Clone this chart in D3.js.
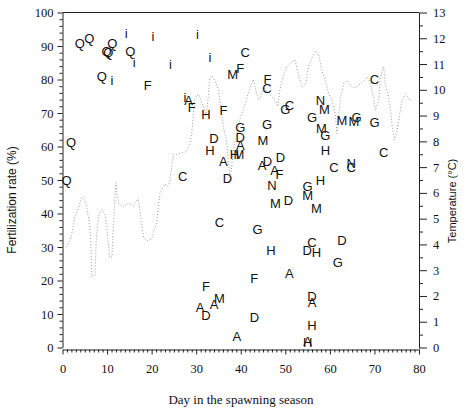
<!DOCTYPE html>
<html>
<head>
<meta charset="utf-8">
<script src="https://cdn.jsdelivr.net/npm/d3@7"></script>
<style>
  html, body { margin: 0; padding: 0; background: #fff; }
  svg { display: block; }
  text { opacity: 0.999; }
</style>
</head>
<body>
<svg id="chart" width="467" height="408"></svg>
<script>
// Fertilization rate per female (letter = female code)
const markerLabels = [
  "Q","Q","Q","Q","Q","Q","Q","Q","Q",
  "i","i","i","i","i","i","i","F","i","A","F","H","F","D","H","A",
  "M","F","C","H","M","G","D","A","D","C","C",
  "F","C","G","C","G","M","A","D","D","A","F","N","M","D",
  "G","M","H","M","N","M","G","M","G","H","C","N","C",
  "M","M","G","G","C","C",
  "G","H","C","D","H","D","G","A","F","D","A",
  "F","A","D","A","M","D","H","A","H","A"
];
const markerDays = [
  0.9, 1.9, 3.9, 6.0, 8.8, 9.9, 10.3, 11.2, 15.2,
  16.1, 11.1, 14.3, 20.3, 24.2, 30.3, 33.1, 19.1, 27.5, 28.3, 29.0, 32.2, 36.1, 34.0, 33.1, 36.1,
  38.2, 39.9, 41.0, 38.6, 39.6, 39.9, 39.9, 39.9, 37.0, 27.0, 35.2,
  46.0, 45.9, 50.0, 50.9, 45.9, 45.0, 44.8, 46.0, 48.9, 47.6, 48.7, 47.0, 47.8, 50.7,
  55.0, 55.0, 57.9, 57.0, 57.9, 58.8, 56.0, 58.1, 59.0, 59.0, 60.9, 64.8, 64.8,
  62.7, 65.4, 66.0, 70.0, 70.0, 72.1,
  43.8, 46.8, 56.0, 54.9, 57.0, 62.7, 61.8, 50.9, 43.0, 56.0, 56.0,
  32.2, 30.9, 32.2, 34.0, 35.2, 43.1, 56.0, 39.1, 55.0, 55.0
];
const markerRates = [
  50.0, 61.2, 90.7, 92.3, 80.9, 88.4, 88.0, 90.8, 88.4,
  85.2, 79.7, 93.8, 92.8, 84.4, 93.6, 86.6, 78.4, 74.7, 73.7, 71.7, 69.5, 70.9, 62.3, 58.8, 55.6,
  81.5, 83.2, 88.1, 57.8, 57.8, 65.7, 62.7, 60.3, 50.4, 51.0, 37.3,
  80.2, 77.5, 71.2, 72.2, 66.5, 61.8, 54.3, 55.5, 56.8, 52.8, 51.8, 48.3, 43.0, 44.0,
  48.0, 45.3, 50.0, 41.4, 73.7, 71.2, 68.7, 65.3, 63.3, 58.8, 53.8, 55.1, 53.8,
  67.9, 67.5, 68.7, 67.2, 80.2, 58.3,
  35.4, 29.1, 31.4, 28.9, 28.4, 31.9, 25.4, 22.1, 20.7, 15.4, 13.4,
  18.4, 12.0, 9.5, 12.8, 14.8, 9.0, 6.5, 3.4, 1.5, 1.8
];

// Daily water temperature (°C)
const tempDays = [
  0.9, 1.6, 2.2, 2.8, 3.3, 4.3, 4.8, 5.4, 6.0, 6.3, 6.6, 7.3, 7.6, 8.2, 8.8, 9.5, 9.9,
  10.6, 11.1, 11.4, 12.0, 12.3, 12.7, 13.6, 14.7, 15.9, 17.0, 17.7, 18.2, 19.0, 20.0,
  20.5, 21.1, 21.5, 21.9, 23.0, 23.7, 24.1, 24.5, 24.9, 25.6, 27.8, 28.6, 29.0, 29.3,
  29.7, 30.1, 30.7, 31.2, 31.7, 32.2, 32.7, 33.0, 33.5, 34.2, 35.0, 35.3, 35.7, 36.1,
  36.8, 37.6, 38.5, 39.4, 39.9, 40.6, 41.4, 42.1, 42.8, 43.6, 44.0, 44.4, 45.1, 45.9,
  47.0, 47.8, 48.3, 48.9, 49.6, 50.4, 51.5, 52.2, 53.0, 53.8, 54.5, 55.2, 56.0, 56.7,
  57.5, 58.2, 59.0, 59.7, 60.5, 61.2, 61.6, 62.4, 63.1, 63.9, 65.0, 66.1, 66.9, 67.6,
  68.4, 69.1, 69.8, 70.2, 71.0, 71.3, 72.1, 72.4, 73.2, 73.6, 74.0, 74.5, 75.1, 75.6,
  76.2, 77.0, 77.8, 78.5
];
const tempValues = [
  3.9, 4.1, 4.5, 5.1, 5.3, 5.8, 5.85, 5.45, 4.9, 4.3, 2.75, 2.8, 4.3, 5.2, 5.35, 5.15, 4.7,
  3.5, 3.5, 4.7, 6.4, 5.85, 5.6, 5.45, 5.6, 5.5, 5.8, 4.9, 4.25, 4.15, 4.2,
  4.55, 4.8, 5.45, 6.0, 6.35, 6.25, 6.5, 7.0, 7.5, 7.5, 7.6, 7.9, 8.3, 8.95,
  9.6, 9.8, 9.8, 9.5, 9.35, 9.0, 9.7, 10.45, 10.55, 10.35, 10.0, 9.6, 9.05, 8.55,
  8.05, 6.5, 7.8, 8.45, 8.95, 9.2, 9.7, 10.1, 10.4, 9.85, 9.6, 9.7, 10.1, 9.95,
  9.7, 9.6, 9.35, 10.1, 10.6, 10.9, 11.1, 11.15, 10.55, 10.1, 10.2, 10.9, 11.25, 11.5,
  11.35, 10.75, 10.35, 9.85, 9.6, 9.05, 8.3, 9.7, 10.25, 10.35, 10.1, 10.1, 10.25, 10.35,
  10.5, 10.25, 9.7, 9.2, 9.6, 10.5, 10.9, 10.25, 9.7, 9.2, 8.55, 8.05, 8.4, 9.0,
  9.6, 9.85, 9.6, 9.6
];

const dayTicks = [0, 10, 20, 30, 40, 50, 60, 70, 80];
const rateTicks = [0, 10, 20, 30, 40, 50, 60, 70, 80, 90, 100];
const tempTicks = [0, 1, 2, 3, 4, 5, 6, 7, 8, 9, 10, 11, 12, 13];

const svg = d3.select("#chart");
const plotLeft = 62.5, plotRight = 419, plotTop = 12.5, plotBottom = 347.5;

const x = d3.scaleLinear().domain([0, 80]).range([plotLeft, plotRight]);
const yRate = d3.scaleLinear().domain([0, 100]).range([plotBottom, plotTop]);
const yTemp = d3.scaleLinear().domain([0, 13]).range([plotBottom, plotTop]);

const serif = "'Liberation Serif', 'Times New Roman', serif";
const sans = "'Liberation Sans', Arial, Helvetica, sans-serif";

// temperature trace (light dotted)
svg.append("path")
  .datum(tempDays.map((d, i) => [d, tempValues[i]]))
  .attr("fill", "none")
  .attr("stroke", "#9a9a9a")
  .attr("stroke-width", 1)
  .attr("stroke-dasharray", "1,2")
  .attr("d", d3.line().x(d => x(d[0])).y(d => yTemp(d[1])));

// frame top
svg.append("line")
  .attr("x1", plotLeft).attr("x2", plotRight)
  .attr("y1", plotTop).attr("y2", plotTop)
  .attr("stroke", "#222").attr("stroke-width", 1);

function styleAxis(g) {
  g.select(".domain").attr("stroke", "#222");
  g.selectAll(".tick line").attr("stroke", "#222");
  g.selectAll("text").attr("fill", "#111").attr("font-family", serif).attr("font-size", 12.5);
}

// minor ticks
const minorDays = d3.range(0, 81, 1).filter(d => d % 10 !== 0);
svg.append("g")
  .attr("transform", `translate(0,${plotBottom + 2})`)
  .call(d3.axisBottom(x).tickValues(minorDays).tickSize(3).tickFormat(""))
  .call(g => g.select(".domain").remove())
  .call(g => g.selectAll(".tick line").attr("stroke", "#222"));

svg.append("g")
  .attr("transform", `translate(0,${plotBottom + 2})`)
  .call(d3.axisBottom(x).tickValues(dayTicks).tickSize(5).tickSizeOuter(0).tickPadding(10))
  .call(styleAxis);

const minorRates = d3.range(0, 101, 2).filter(d => d % 10 !== 0);
svg.append("g")
  .attr("transform", `translate(${plotLeft},0)`)
  .call(d3.axisLeft(yRate).tickValues(minorRates).tickSize(3).tickFormat(""))
  .call(g => g.select(".domain").remove())
  .call(g => g.selectAll(".tick line").attr("stroke", "#222"));

svg.append("g")
  .attr("transform", `translate(${plotLeft},0)`)
  .call(d3.axisLeft(yRate).tickValues(rateTicks).tickSize(5).tickSizeOuter(0).tickPadding(4))
  .call(styleAxis);

const minorTemps = d3.range(0.5, 13, 1);
svg.append("g")
  .attr("transform", `translate(${plotRight},0)`)
  .call(d3.axisRight(yTemp).tickValues(minorTemps).tickSize(4).tickFormat(""))
  .call(g => g.select(".domain").remove())
  .call(g => g.selectAll(".tick line").attr("stroke", "#222"));

svg.append("g")
  .attr("transform", `translate(${plotRight},0)`)
  .call(d3.axisRight(yTemp).tickValues(tempTicks).tickSize(8).tickSizeOuter(0).tickPadding(6))
  .call(styleAxis);

// female-coded markers
svg.append("g")
  .selectAll("text")
  .data(markerLabels.map((l, i) => ({ l, d: markerDays[i], r: markerRates[i] })))
  .join("text")
  .attr("x", p => x(p.d))
  .attr("y", p => yRate(p.r))
  .attr("dy", "0.36em")
  .attr("text-anchor", "middle")
  .attr("font-family", sans)
  .attr("font-size", 13)
  .attr("fill", "#111")
  .text(p => p.l);

// axis titles
svg.append("text")
  .attr("x", 241).attr("y", 404)
  .attr("text-anchor", "middle")
  .attr("font-family", serif).attr("font-size", 13)
  .attr("fill", "#111")
  .text("Day in the spawning season");

svg.append("text")
  .attr("transform", "translate(16,200) rotate(-90)")
  .attr("text-anchor", "middle")
  .attr("font-family", sans).attr("font-size", 12)
  .attr("fill", "#111")
  .text("Fertilization rate (%)");

svg.append("text")
  .attr("transform", "translate(456,201) rotate(-90)")
  .attr("text-anchor", "middle")
  .attr("font-family", sans).attr("font-size", 11)
  .attr("fill", "#111")
  .text("Temperature (°C)");
</script>
</body>
</html>
